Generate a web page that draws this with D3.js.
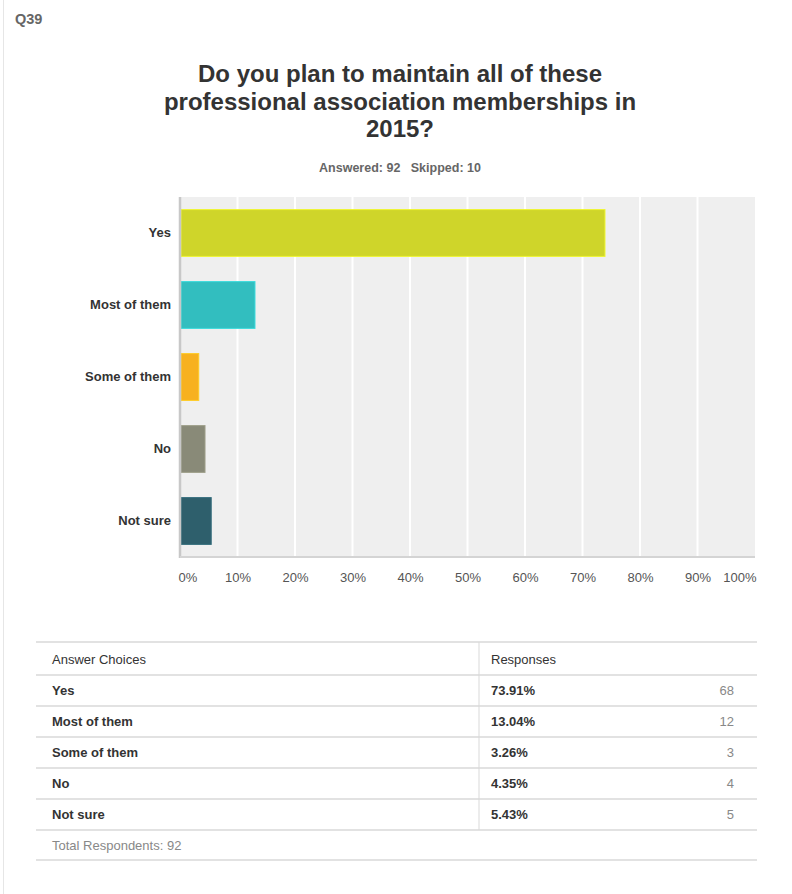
<!DOCTYPE html>
<html>
<head>
<meta charset="utf-8">
<script src="https://cdn.jsdelivr.net/npm/d3@7"></script>
<style>
  html, body { margin: 0; padding: 0; background: #fff; }
  svg { display: block; font-family: "Liberation Sans", Arial, Helvetica, sans-serif; }
</style>
</head>
<body>
<svg id="chart" width="792" height="894"></svg>
<script>
const questionId = "Q39";
const titleLines = ["Do you plan to maintain all of these", "professional association memberships in", "2015?"];
const subtitle = "Answered: 92   Skipped: 10";
const categories = ["Yes", "Most of them", "Some of them", "No", "Not sure"];
const percents = [73.91, 13.04, 3.26, 4.35, 5.43];
const counts = [68, 12, 3, 4, 5];
const colors = ["#cfd52a", "#32bebf", "#f7b11f", "#898a78", "#2e5f6c"];
const tickValues = [0, 10, 20, 30, 40, 50, 60, 70, 80, 90, 100];
const tableHeaders = ["Answer Choices", "Responses"];
const totalLabel = "Total Respondents: 92";

(function () {
const svg = d3.select("#chart");

// card left border
svg.append("line").attr("x1", 3.5).attr("x2", 3.5).attr("y1", 0).attr("y2", 894)
  .attr("stroke", "#e6e6e6").attr("stroke-width", 1);

svg.append("text").attr("x", 15).attr("y", 24).text(questionId)
  .attr("font-size", 14.5).attr("font-weight", "bold").attr("fill", "#666");

svg.append("g").selectAll("text").data(titleLines).join("text")
  .attr("x", 400).attr("y", (d, i) => 82 + i * 27.5)
  .attr("text-anchor", "middle").attr("font-size", 24).attr("font-weight", "bold")
  .attr("fill", "#333").text(d => d);

svg.append("text").attr("x", 400).attr("y", 172).attr("text-anchor", "middle")
  .attr("font-size", 12.5).attr("font-weight", "bold").attr("fill", "#666")
  .style("white-space", "pre").text(subtitle);

// plot
const pLeft = 180, pRight = 755, pTop = 197, pBottom = 557;
const x = d3.scaleLinear().domain([0, 100]).range([pLeft, pRight]);
const y = d3.scaleBand().domain(categories).range([pTop, pBottom]).paddingInner(0.35).paddingOuter(0.175);

svg.append("rect").attr("x", pLeft).attr("y", pTop).attr("width", pRight - pLeft).attr("height", pBottom - pTop)
  .attr("fill", "#efefef");

svg.append("g").selectAll("line").data(tickValues.slice(1, -1)).join("line")
  .attr("x1", d => x(d)).attr("x2", d => x(d)).attr("y1", pTop).attr("y2", pBottom)
  .attr("stroke", "#fff").attr("stroke-width", 2);

svg.append("g").selectAll("rect").data(categories).join("rect")
  .attr("x", x(0) + 1).attr("y", d => y(d))
  .attr("width", (d, i) => x(percents[i]) - x(0) - 1)
  .attr("height", y.bandwidth())
  .attr("fill", (d, i) => colors[i])
  .attr("stroke", (d, i) => d3.color(colors[i]).brighter(0.4))
  .attr("stroke-width", 1);

// axes lines
svg.append("line").attr("x1", pLeft).attr("x2", pLeft).attr("y1", pTop).attr("y2", pBottom + 1)
  .attr("stroke", "#c8c8c8").attr("stroke-width", 2.5);
svg.append("line").attr("x1", pLeft).attr("x2", pRight).attr("y1", pBottom).attr("y2", pBottom)
  .attr("stroke", "#d4d4d4").attr("stroke-width", 2);

// x axis labels
const xAxis = d3.axisBottom(x).tickValues(tickValues).tickFormat(d => d + "%").tickSize(0).tickPadding(0);
const gx = svg.append("g").attr("transform", `translate(0,${pBottom + 16})`).call(xAxis);
gx.select(".domain").remove();
gx.selectAll("text").attr("font-size", 13).attr("fill", "#555").attr("font-family", null)
  .attr("text-anchor", (d, i) => i === 0 ? "start" : (i === tickValues.length - 1 ? "end" : "middle"))
  .attr("dx", (d, i) => i === 0 ? -2 : (i === tickValues.length - 1 ? 1 : 0));

// y axis labels
const yAxis = d3.axisLeft(y).tickSize(0).tickPadding(9);
const gy = svg.append("g").attr("transform", `translate(${pLeft},0)`).call(yAxis);
gy.select(".domain").remove();
gy.selectAll("text").attr("font-size", 13).attr("font-weight", "bold").attr("fill", "#333")
  .attr("font-family", null);

// table
const tLeft = 36, tRight = 757, divX = 479, tTop = 642, rowH = 31;
const rowTops = [tTop].concat(categories.map((c, i) => tTop + 33 + i * rowH));
const tg = svg.append("g").attr("font-size", 13);
const lineYs = rowTops.concat([tTop + 33 + categories.length * rowH, tTop + 33 + categories.length * rowH + 30]);
tg.selectAll("line.h").data(lineYs).join("line").attr("class", "h")
  .attr("x1", tLeft).attr("x2", tRight).attr("y1", d => d).attr("y2", d => d)
  .attr("stroke", "#d9d9d9").attr("stroke-width", 1.5);
tg.append("line").attr("x1", divX).attr("x2", divX).attr("y1", tTop).attr("y2", lineYs[6])
  .attr("stroke", "#d9d9d9").attr("stroke-width", 1);

tg.append("text").attr("x", 52).attr("y", tTop + 22).attr("fill", "#333").text(tableHeaders[0]);
tg.append("text").attr("x", 491).attr("y", tTop + 22).attr("fill", "#333").text(tableHeaders[1]);

categories.forEach((c, i) => {
  const ty = tTop + 33 + i * rowH + 20;
  tg.append("text").attr("x", 52).attr("y", ty).attr("font-weight", "bold").attr("fill", "#333").text(c);
  tg.append("text").attr("x", 491).attr("y", ty).attr("font-weight", "bold").attr("fill", "#333")
    .text(percents[i].toFixed(2) + "%");
  tg.append("text").attr("x", 734).attr("y", ty).attr("text-anchor", "end").attr("fill", "#888")
    .text(counts[i]);
});
tg.append("text").attr("x", 52).attr("y", lineYs[6] + 20).attr("fill", "#888").text(totalLabel);
})();
</script>
</body>
</html>
